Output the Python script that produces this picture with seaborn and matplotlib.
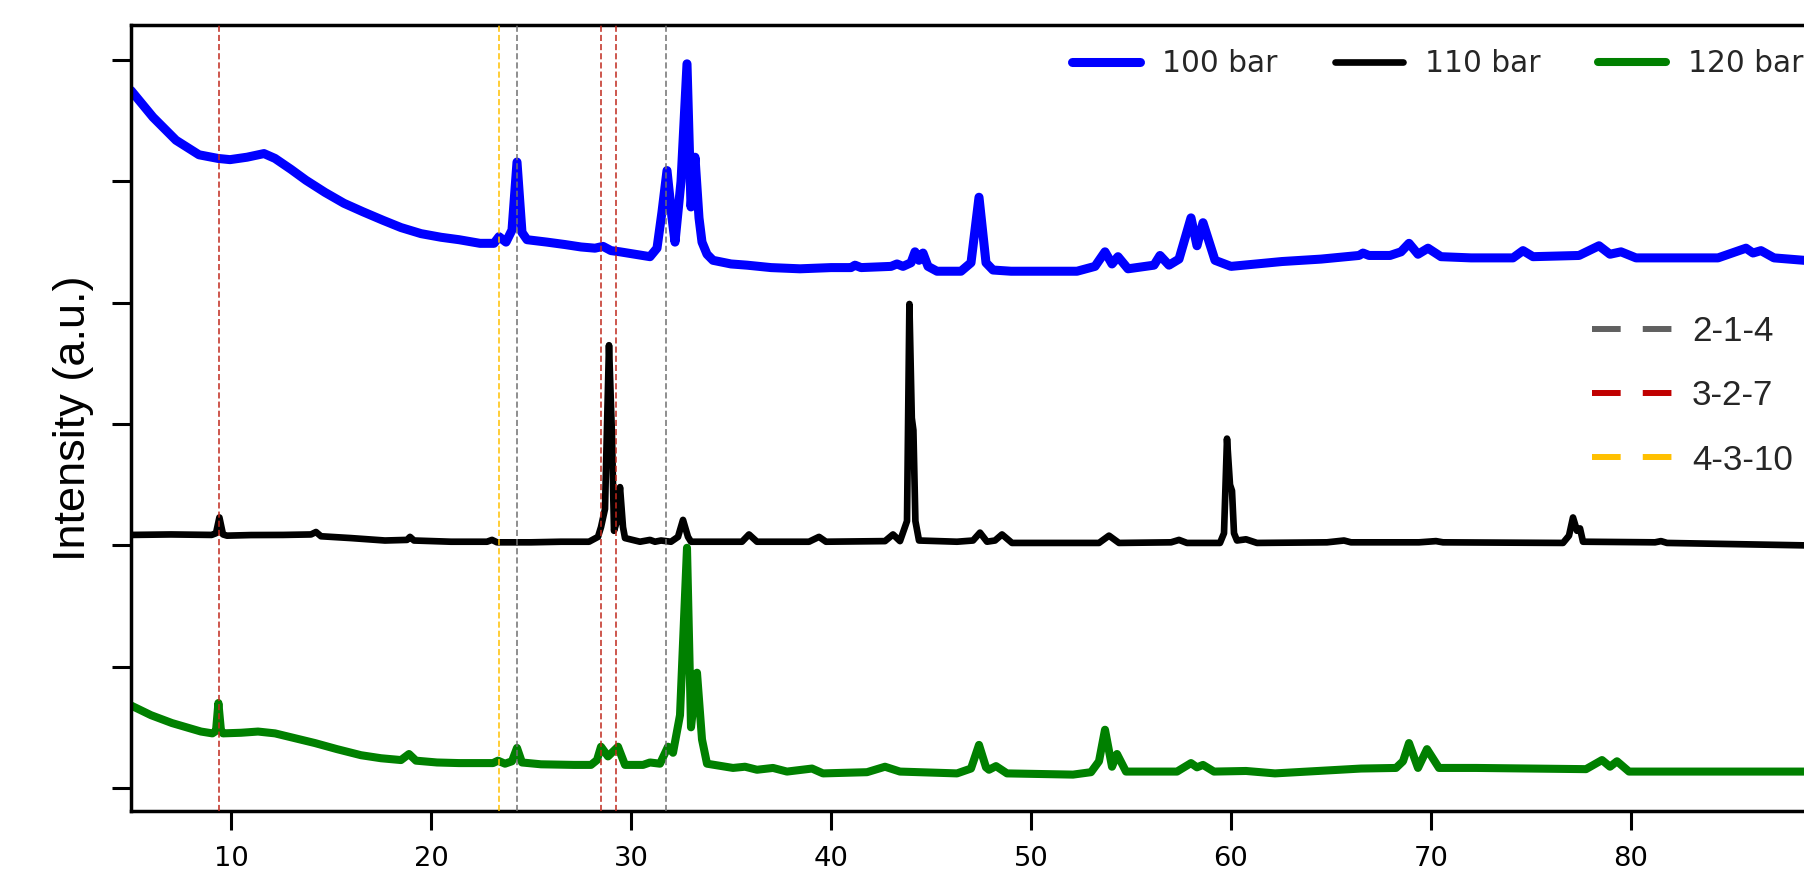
import matplotlib
matplotlib.use("Agg")
import matplotlib.pyplot as plt
import seaborn as sns
from matplotlib.lines import Line2D

# ---------------- data ----------------
series_labels = ["100 bar", "110 bar", "120 bar"]
series_colors = ["#0000ff", "#000000", "#008000"]

x_100 = [5.0, 6.1, 7.25, 8.4, 9.35, 9.95, 10.8, 11.65, 12.2, 13.0, 13.75, 14.7, 15.65,
         16.6, 17.6, 18.5, 19.5, 20.5, 21.4, 22.45, 23.15, 23.4, 23.75, 24.05, 24.3,
         24.55, 24.8, 25.8, 26.7, 27.5, 28.2, 28.6, 29.0, 29.45, 30.2, 30.95, 31.3,
         31.55, 31.8, 32.05, 32.2, 32.5, 32.8, 33.0, 33.2, 33.4, 33.55, 33.8, 34.1,
         35.0, 35.8, 37.0, 38.45, 40.0, 41.0, 41.2, 41.5, 43.0, 43.3, 43.6, 44.0,
         44.2, 44.4, 44.6, 44.85, 45.3, 46.5, 47.0, 47.4, 47.75, 48.1, 49.0, 50.0,
         52.3, 53.2, 53.7, 54.05, 54.35, 54.85, 56.15, 56.45, 56.9, 57.4, 58.0, 58.3,
         58.6, 59.2, 60.0, 62.55, 64.5, 66.4, 66.6, 66.9, 67.95, 68.5, 68.9, 69.35,
         69.85, 70.5, 72.0, 74.1, 74.6, 75.1, 77.4, 78.4, 78.95, 79.5, 80.25, 84.35,
         85.75, 86.1, 86.5, 87.15, 88.65, 90.0]
y_100 = [5.75, 5.53, 5.34, 5.22, 5.19, 5.18, 5.20, 5.23, 5.19, 5.10, 5.01, 4.91, 4.82,
         4.75, 4.68, 4.62, 4.57, 4.54, 4.52, 4.49, 4.49, 4.545, 4.50, 4.60, 5.16,
         4.58, 4.52, 4.50, 4.48, 4.46, 4.45, 4.465, 4.43, 4.42, 4.40, 4.38, 4.45,
         4.75, 5.09, 4.70, 4.50, 5.00, 5.97, 4.79, 5.20, 4.70, 4.50, 4.40, 4.35,
         4.32, 4.31, 4.29, 4.28, 4.29, 4.29, 4.31, 4.29, 4.30, 4.32, 4.30, 4.33,
         4.42, 4.35, 4.41, 4.30, 4.26, 4.26, 4.33, 4.87, 4.33, 4.27, 4.26, 4.26,
         4.26, 4.30, 4.42, 4.32, 4.38, 4.28, 4.31, 4.39, 4.31, 4.36, 4.70, 4.47,
         4.66, 4.35, 4.30, 4.34, 4.36, 4.39, 4.41, 4.39, 4.39, 4.42, 4.49, 4.40,
         4.45, 4.38, 4.37, 4.37, 4.43, 4.38, 4.39, 4.47, 4.40, 4.42, 4.37, 4.37,
         4.45, 4.41, 4.43, 4.37, 4.35, 4.35]

x_110 = [5.0, 7.0, 9.03, 9.25, 9.42, 9.6, 9.8, 11.0, 12.6, 14.0, 14.25, 14.5, 16.0,
         17.7, 18.8, 18.95, 19.15, 21.0, 22.8, 23.05, 23.3, 25.0, 26.5, 27.9, 28.35,
         28.5, 28.7, 28.9, 29.05, 29.15, 29.3, 29.45, 29.6, 29.7, 30.45, 30.95, 31.2,
         31.5, 32.0, 32.35, 32.6, 32.85, 33.0, 35.55, 35.9, 36.3, 38.9, 39.4, 39.75,
         42.7, 43.1, 43.45, 43.8, 43.92, 44.04, 44.12, 44.22, 44.4, 46.3, 47.1, 47.45,
         47.8, 48.2, 48.55, 49.05, 53.4, 53.9, 54.4, 57.0, 57.4, 57.8, 59.45, 59.65,
         59.8, 59.95, 60.05, 60.15, 60.3, 60.75, 61.3, 64.8, 65.65, 66.0, 69.4, 70.25,
         70.6, 76.6, 76.9, 77.1, 77.3, 77.45, 77.6, 81.2, 81.5, 81.8, 88.65, 90.0]
y_110 = [2.086, 2.09, 2.086, 2.10, 2.23, 2.09, 2.08, 2.085, 2.086, 2.09, 2.11, 2.075, 2.06,
         2.04, 2.045, 2.07, 2.04, 2.03, 2.03, 2.045, 2.025, 2.025, 2.03, 2.03, 2.07,
         2.15, 2.30, 3.65, 2.90, 2.12, 2.20, 2.48, 2.15, 2.06, 2.03, 2.045, 2.03,
         2.04, 2.03, 2.07, 2.21, 2.07, 2.03, 2.03, 2.09, 2.03, 2.03, 2.07, 2.03,
         2.035, 2.09, 2.035, 2.20, 3.99, 3.05, 2.95, 2.20, 2.04, 2.03, 2.04, 2.105,
         2.03, 2.04, 2.09, 2.02, 2.02, 2.08, 2.02, 2.025, 2.045, 2.02, 2.02, 2.10,
         2.88, 2.50, 2.45, 2.10, 2.04, 2.05, 2.02, 2.025, 2.04, 2.025, 2.025, 2.035,
         2.025, 2.02, 2.08, 2.23, 2.12, 2.14, 2.03, 2.025, 2.035, 2.02, 2.00, 2.00]

x_120 = [5.0, 6.0, 7.05, 8.5, 9.07, 9.25, 9.37, 9.5, 9.6, 10.5, 11.35, 12.2, 13.2, 14.2,
         15.3, 16.5, 17.5, 18.5, 18.9, 19.25, 20.3, 21.4, 23.1, 23.35, 23.7, 24.05,
         24.3, 24.55, 25.5, 27.15, 28.0, 28.3, 28.5, 28.85, 29.35, 29.7, 30.6, 30.95,
         31.45, 31.65, 31.85, 32.1, 32.45, 32.8, 33.0, 33.3, 33.55, 33.8, 35.1, 35.7,
         36.3, 37.1, 37.8, 39.05, 39.6, 41.8, 42.7, 43.45, 46.3, 47.0, 47.4, 47.75,
         47.9, 48.25, 48.8, 52.1, 53.0, 53.4, 53.7, 54.05, 54.3, 54.75, 57.3, 58.0,
         58.3, 58.6, 59.15, 60.75, 62.2, 66.5, 68.25, 68.6, 68.9, 69.35, 69.8, 70.4,
         72.25, 77.75, 78.55, 78.95, 79.3, 79.9, 88.65, 90.0]
y_120 = [0.68, 0.60, 0.535, 0.465, 0.45, 0.47, 0.70, 0.47, 0.45, 0.455, 0.465, 0.45, 0.41,
         0.37, 0.32, 0.27, 0.245, 0.23, 0.28, 0.225, 0.21, 0.205, 0.205, 0.225, 0.20,
         0.22, 0.33, 0.21, 0.195, 0.19, 0.19, 0.23, 0.34, 0.26, 0.34, 0.19, 0.19, 0.21,
         0.20, 0.27, 0.34, 0.29, 0.60, 1.98, 0.50, 0.95, 0.40, 0.20, 0.165, 0.175,
         0.15, 0.165, 0.135, 0.16, 0.12, 0.13, 0.175, 0.135, 0.12, 0.16, 0.355, 0.17,
         0.15, 0.18, 0.12, 0.11, 0.13, 0.22, 0.48, 0.175, 0.28, 0.135, 0.135, 0.205,
         0.17, 0.19, 0.135, 0.14, 0.12, 0.16, 0.165, 0.22, 0.37, 0.165, 0.32, 0.165,
         0.165, 0.155, 0.23, 0.175, 0.22, 0.135, 0.135, 0.135]

phase_labels = ["2-1-4", "3-2-7", "4-3-10"]
phase_colors = ["#606060", "#c00000", "#ffc000"]
phase_line_colors = ["#707070", "#c0281c", "#ffc000"]
pos_214 = [24.28, 31.75]
pos_327 = [9.38, 28.5, 29.25]
pos_4310 = [23.42]

x_ticks = [10, 20, 30, 40, 50, 60, 70, 80]
y_ticks = [0, 1, 2, 3, 4, 5, 6]

# ---------------- figure ----------------
sns.set_style("ticks")
plt.rcParams['font.family'] = ['DejaVu Sans']

W, H = 1804, 876
fig = plt.figure(figsize=(W / 100, H / 100), dpi=100)
ax = fig.add_axes([131 / W, 1 - 811 / H, 1700 / W, 786 / H])

widths = [6.5, 4.8, 5.8]
for xs, ys, lab, col, lw in zip([x_100, x_110, x_120], [y_100, y_110, y_120],
                                series_labels, series_colors, widths):
    sns.lineplot(x=xs, y=ys, color=col, linewidth=lw, label=lab, ax=ax,
                 estimator=None, sort=False)

for positions, col in zip([pos_214, pos_327, pos_4310], phase_line_colors):
    for p in positions:
        ax.axvline(p, color=col, linewidth=1.1, dashes=(4, 2), zorder=5)

ax.set_xlim(5, 90)
ax.set_ylim(-0.19, 6.29)
ax.set_xticks(x_ticks)
ax.set_yticks(y_ticks)
ax.set_yticklabels([])
ax.set_xlabel("")
ax.tick_params(axis='both', direction='out', length=13.5, width=2.2, color='black')
ax.tick_params(axis='x', pad=12, labelsize=19.7, labelcolor='black')
for s in ax.spines.values():
    s.set_linewidth(2.5)
    s.set_color('black')
    s.set_visible(True)

ax.set_ylabel("Intensity (a.u.)", fontsize=32.5, family=['Liberation Sans', 'DejaVu Sans'],
              color='black')
ax.yaxis.set_label_coords(-0.022, 0.5)

# top legend (series)
h, l = ax.get_legend_handles_labels()
leg1 = ax.legend(h[:3], l[:3], ncol=3, frameon=False, fontsize=21.3,
                 handlelength=2.3, handletextpad=0.75, columnspacing=1.93,
                 loc='center left', bbox_to_anchor=(1072 / W, 1 - 64 / H),
                 bbox_transform=fig.transFigure, borderaxespad=0, borderpad=0)
ax.add_artist(leg1)

# phase legend
ph = [Line2D([0], [0], color=c, linewidth=4.3, dashes=(4.8, 3.7)) for c in phase_colors]
leg2 = ax.legend(ph, phase_labels, frameon=False,
                 prop={'family': ['Liberation Sans', 'DejaVu Sans'], 'size': 25.2},
                 handlelength=2.29, handletextpad=0.57, labelspacing=0.89,
                 loc='center left', bbox_to_anchor=(1592 / W, 1 - 396 / H),
                 bbox_transform=fig.transFigure, borderaxespad=0, borderpad=0)

fig.savefig("out.png", dpi=100)
